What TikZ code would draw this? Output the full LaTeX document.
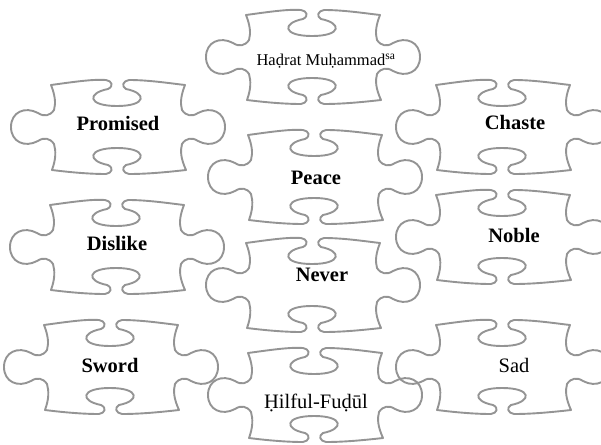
\documentclass[tikz,border=0pt]{standalone}
\usepackage{fontspec}
\setmainfont{Liberation Serif}
\usetikzlibrary{positioning}

\tikzset{
  pics/piece/.style={code={
    \draw[edge] (-67,-42) .. controls (-45,-45) and (-25,-48) .. (-12,-47)
      .. controls (-6,-46) and (-4,-41) .. (-10,-38)
      .. controls (-31,-34) and (-31,-21) .. (-1,-21)
      .. controls (29,-21) and (29,-34) .. (8,-38)
      .. controls (3,-41) and (5,-46) .. (11,-47)
      .. controls (30,-47) and (50,-44) .. (67,-42)
      .. controls (63,-32) and (62,-24) .. (64,-17)
      .. controls (68,-11) and (74,-10) .. (80,-14)
      .. controls (93,-21) and (107,-15) .. (107,0)
      .. controls (107,15) and (93,21) .. (80,14)
      .. controls (74,10) and (68,11) .. (64,17)
      .. controls (62,24) and (63,32) .. (68,43)
      .. controls (50,45) and (30,47) .. (11,47)
      .. controls (5,46) and (3,41) .. (8,38)
      .. controls (29,34) and (29,21) .. (-1,21)
      .. controls (-31,21) and (-31,34) .. (-10,38)
      .. controls (-4,41) and (-6,46) .. (-12,47)
      .. controls (-30,47) and (-50,45) .. (-66,43)
      .. controls (-62,32) and (-62,24) .. (-64,17)
      .. controls (-68,11) and (-74,10) .. (-80,14)
      .. controls (-93,21) and (-107,15) .. (-107,0)
      .. controls (-107,-15) and (-93,-21) .. (-80,-14)
      .. controls (-74,-10) and (-68,-11) .. (-64,-17)
      .. controls (-62,-24) and (-63,-32) .. (-67,-42) -- cycle;
  }}
}

\begin{document}
\begin{tikzpicture}[x=1pt,y=-1pt,
  edge/.style={draw=black!42,line width=1.9pt,line join=round},
  word/.style={font=\fontsize{20.5}{24}\selectfont\bfseries,inner sep=0pt},
  plainword/.style={font=\fontsize{20.5}{24}\selectfont,inner sep=0pt}]
\useasboundingbox (0,0) rectangle (601,444);
\clip (0,0) rectangle (601,444);
% the pieces
\pic at (313,57) {piece};
\pic at (118,127) {piece};
\pic at (503,127) {piece};
\pic at (315,177) {piece};
\pic at (117,247) {piece};
\pic at (503,237) {piece};
\pic at (313,285) {piece};
\pic at (111,367) {piece};
\pic at (503,367) {piece};
\pic at (315,395) {piece};
% the words
\node[plainword,font=\fontsize{16.5}{20}\selectfont] (hadrat) at (326,61)
  {Haḍrat Muḥammad\textsuperscript{sa}};
\node[word] (promised) at (118,123) {Promised};
\node[word] (chaste) at (515,122) {Chaste};
\node[word] (peace) at (316,178) {Peace};
\node[word] (dislike) at (117,243) {Dislike};
\node[word] (noble) at (514,235) {Noble};
\node[word] (never) at (322,275) {Never};
\node[word] (sword) at (110,365) {Sword};
\node[plainword] (sad) at (514,365) {Sad};
\node[plainword] (hilful) at (316,403) {Ḥilful-Fuḍūl};
\end{tikzpicture}
\end{document}
